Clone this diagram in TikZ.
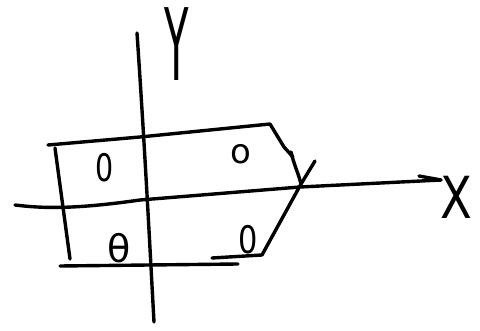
\documentclass[tikz,border=0pt]{standalone}
\usepackage{fontspec}
\setsansfont{DejaVu Sans}
\begin{document}
\begin{tikzpicture}[x=1pt,y=-1pt,
  pen/.style={line width=3.4pt,line cap=round,line join=round,black},
  lbl/.style={inner sep=0pt,font=\sffamily\fontsize{38}{38}\selectfont},
  axlbl/.style={inner sep=0pt,font=\sffamily}]
\useasboundingbox (0,0) rectangle (480,331);
% named points
\coordinate (yb) at (137,33);
\coordinate (ye) at (154,322);
\coordinate (xb) at (15,205);
\coordinate (xe) at (441,180);
\coordinate (tl) at (48,145);
\coordinate (tr) at (270,124);
\coordinate (rc) at (301,184);
\coordinate (br) at (262,255);
\coordinate (bl) at (60,266);
\coordinate (be) at (238,264);
\coordinate (lt) at (55,148);
\coordinate (lb) at (70,259);
% axes
\draw[pen] (yb) .. controls (145,150) and (150,250) .. (ye);
\draw[pen] (xb) .. controls (40,208) and (70,210) .. (140,200) -- (300,187) -- (xe);
\draw[pen] (419,176) -- (xe);
% outline
\draw[pen] (tl) -- (140,137) -- (tr) -- (284,147) -- (293,157);
\draw[pen] (291,152) .. controls (294,165) and (298,172) .. (rc);
\draw[pen] (315,161) -- (rc) -- (br) -- (212,258);
\draw[pen] (lt) -- (lb);
\draw[pen] (bl) -- (be);
% labels
\node[axlbl,font=\sffamily\fontsize{100}{100}\selectfont] (Y) at (177,44) {\scalebox{0.4}[1]{Y}};
\node[axlbl,font=\sffamily\fontsize{58}{58}\selectfont] (X) at (456,197) {\scalebox{0.8}[1]{X}};
\node[lbl] (a) at (105,168) {\scalebox{0.75}[1]{0}};
\node[lbl,font=\sffamily\fontsize{34}{34}\selectfont] (b) at (241,154) {o};
\node[lbl] (c) at (119,248) {θ};
\node[lbl] (d) at (248,240) {\scalebox{0.8}[1]{0}};
\end{tikzpicture}
\end{document}
